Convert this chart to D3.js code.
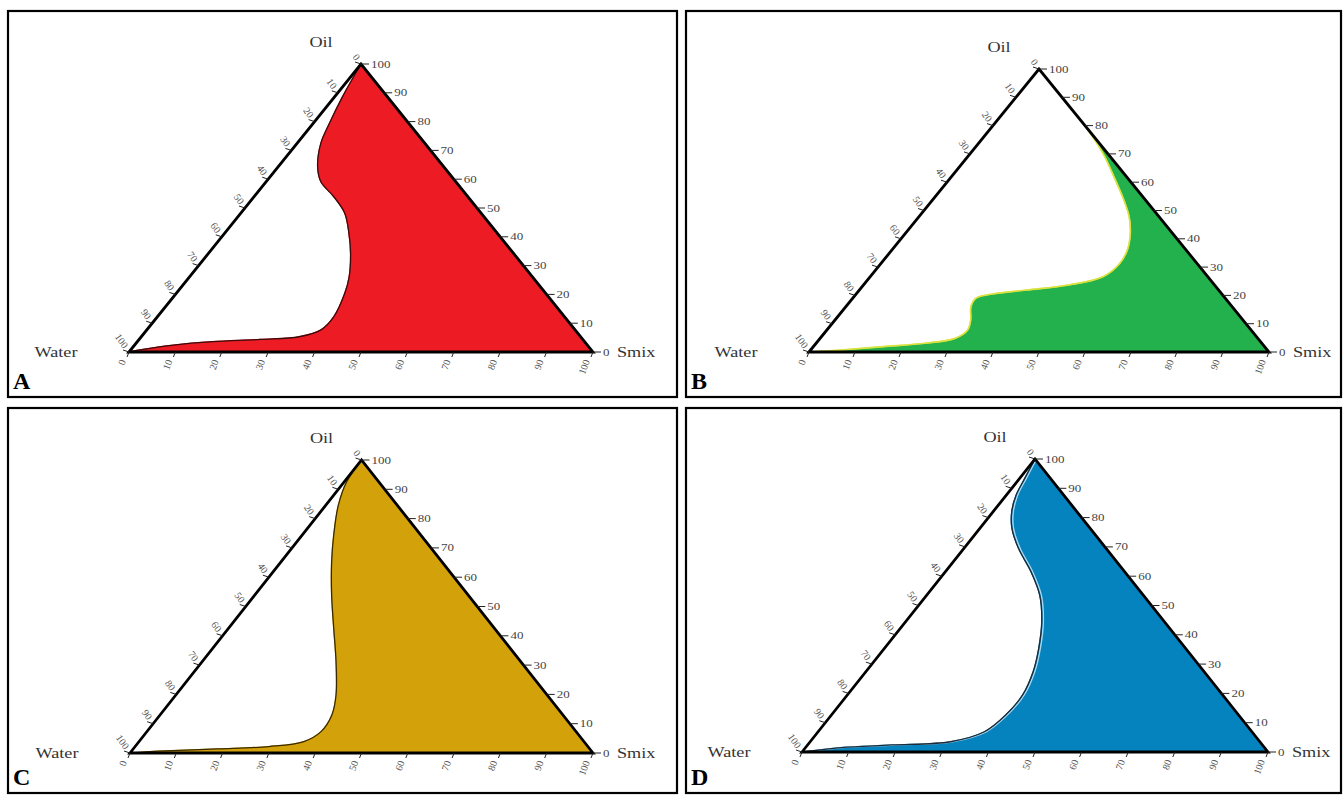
<!DOCTYPE html>
<html>
<head>
<meta charset="utf-8">
<script src="https://cdn.jsdelivr.net/npm/d3@7"></script>
<style>
body { margin: 0; background: #fff; }
text { font-family: "Liberation Serif", "Times New Roman", serif; }
</style>
</head>
<body>
<svg id="fig" width="1343" height="795"></svg>
<script>
// phase boundary of each diagram, as [oil %, smix %] (water = 100 - oil - smix)
var curveA = [[100,0],[88.6,1.7],[79.4,3.5],[72.5,5.1],[64.3,8.5],[59.1,11.8],[53.9,17.2],[48.2,22.4],
  [41.2,26.8],[34.3,30.6],[26.1,34.4],[20.4,36.3],[12.3,38.0],[7.6,37.5],[5.3,34.0],[4.4,26.1],
  [3.6,16.2],[2.4,8.4],[0.9,2.6],[0,0]];
var curveB = [[80,20],[70.2,28.8],[60.8,36.2],[53.7,41.6],[47.8,45.7],[41.9,48.9],[36.0,51.2],[31.3,51.9],
  [26.6,50.6],[23.7,44.7],[21.9,36.4],[20.5,29.7],[19.0,26.8],[16.0,27.2],[11.3,29.5],[7.8,30.6],
  [4.8,29.3],[3.1,23.7],[1.9,15.2],[0.7,6.5],[0,0]];
var curveC = [[100,0],[92.6,0.5],[84.6,2.7],[74.4,6.8],[65.3,10.9],[53.9,16.6],[42.6,22.7],[31.2,28.9],
  [19.8,34.6],[13.0,37.1],[7.3,37.6],[3.9,35.6],[2.2,28.9],[1.4,18.1],[0.7,7.2],[0,0]];
var curveD = [[100,0],[93.4,1.1],[87.7,2.1],[82.0,4.0],[76.3,6.9],[69.5,11.7],[61.5,18.4],[53.6,24.2],
  [44.5,29.2],[35.4,33.1],[27.4,35.9],[19.5,37.6],[12.6,37.4],[6.9,35.7],[3.5,30.1],[2.4,18.0],
  [1.5,7.6],[0,0]];

var panelLetters = ['A', 'B', 'C', 'D'];
var fillColors = ['#ed1c24', '#22b14c', '#d3a20a', '#0583bf'];
var tickValues = d3.range(0, 101, 10);
var curves = [curveA, curveB, curveC, curveD];

// where each panel sits on the page
var layout = [
  {box: [8, 11, 669, 386], wx: 129, sx: 593, base: 352, top: 64},
  {box: [686, 11, 655, 386], wx: 809, sx: 1269, base: 352, top: 69},
  {box: [8, 408, 669, 385], wx: 130, sx: 593, base: 753, top: 460},
  {box: [686, 408, 655, 385], wx: 802, sx: 1268, base: 752, top: 459}
];
var curveStroke = ['#3a0a0a', '#d9e23f', '#3a2a00', '#1d2b36'];

var svg = d3.select('#fig');

layout.forEach(function(p, i) {
  var g = svg.append('g');

  // panel frame
  g.append('rect')
    .attr('x', p.box[0]).attr('y', p.box[1])
    .attr('width', p.box[2]).attr('height', p.box[3])
    .attr('fill', 'none').attr('stroke', '#000').attr('stroke-width', 2.2);

  var x = d3.scaleLinear().domain([0, 100]).range([p.wx, p.sx]);
  var y = d3.scaleLinear().domain([0, 100]).range([p.base, p.top]);
  function pt(o, s) { return [x(s + o / 2), y(o)]; }

  var W = pt(0, 0), S = pt(0, 100), O = pt(100, 0);

  var line = d3.line().curve(d3.curveCatmullRom.alpha(0.5));
  var pts = curves[i].map(function(d) { return pt(d[0], d[1]); });

  g.append('path')
    .attr('d', line(pts) + 'L' + S[0] + ',' + S[1] + 'Z')
    .attr('fill', fillColors[i])
    .attr('stroke', i == 1 ? curveStroke[1] : fillColors[i])
    .attr('stroke-width', 1.2);

  if (i == 3) {
    g.append('path').attr('d', line(pts)).attr('fill', 'none')
      .attr('stroke', '#a9d9f2').attr('stroke-width', 1.4)
      .attr('transform', 'translate(1.6,0)');
  }
  g.append('path').attr('d', line(pts)).attr('fill', 'none')
    .attr('stroke', curveStroke[i]).attr('stroke-width', i == 1 ? 1.6 : 1.3);

  // triangle
  g.append('path')
    .attr('d', 'M' + W + 'L' + O + 'L' + S + 'Z')
    .attr('fill', 'none').attr('stroke', '#000').attr('stroke-width', 2.8)
    .attr('stroke-linejoin', 'miter');

  // right axis (oil)
  tickValues.forEach(function(v) {
    var q = pt(v, 100 - v);
    g.append('line').attr('x1', q[0]).attr('y1', q[1]).attr('x2', q[0] + 8).attr('y2', q[1])
      .attr('stroke', '#222').attr('stroke-width', 1);
    g.append('text')
      .attr('transform', 'translate(' + [q[0] + 10, q[1] + 3.5] + ') scale(1.3,1)')
      .attr('font-size', 10).attr('fill', '#444').text(v);
  });

  // bottom axis (smix)
  tickValues.forEach(function(v) {
    var q = pt(0, v);
    g.append('line').attr('x1', q[0]).attr('y1', q[1]).attr('x2', q[0] - 2).attr('y2', q[1] + 5)
      .attr('stroke', '#222').attr('stroke-width', 1);
    g.append('text')
      .attr('transform', 'translate(' + [q[0] - 3, q[1] + 9] + ') rotate(-70)')
      .attr('text-anchor', 'end')
      .attr('font-size', 10).attr('fill', '#555').text(v);
  });

  // left axis (water)
  tickValues.forEach(function(v) {
    var q = pt(100 - v, 0);
    g.append('line').attr('x1', q[0]).attr('y1', q[1]).attr('x2', q[0] - 6).attr('y2', q[1] - 2)
      .attr('stroke', '#222').attr('stroke-width', 1);
    g.append('text')
      .attr('transform', 'translate(' + [q[0] - 6, q[1] - 3] + ') rotate(55)')
      .attr('text-anchor', 'end')
      .attr('font-size', 10).attr('fill', '#555').text(v);
  });

  // corner names
  g.append('text')
    .attr('transform', 'translate(' + [O[0] - 40, O[1] - 17] + ') scale(1.3,1)')
    .attr('text-anchor', 'middle').attr('font-size', 14).attr('fill', '#333').text('Oil');
  g.append('text')
    .attr('transform', 'translate(' + [W[0] - 73, W[1] + 5] + ') scale(1.3,1)')
    .attr('text-anchor', 'middle').attr('font-size', 14).attr('fill', '#333').text('Water');
  g.append('text')
    .attr('transform', 'translate(' + [S[0] + 24, S[1] + 5] + ') scale(1.3,1)')
    .attr('font-size', 14).attr('fill', '#333').text('Smix');

  // panel letter
  g.append('text')
    .attr('x', p.box[0] + 5).attr('y', p.box[1] + p.box[3] - 8)
    .attr('font-size', 24).attr('font-weight', 'bold').attr('fill', '#000')
    .text(panelLetters[i]);
});
</script>
</body>
</html>
